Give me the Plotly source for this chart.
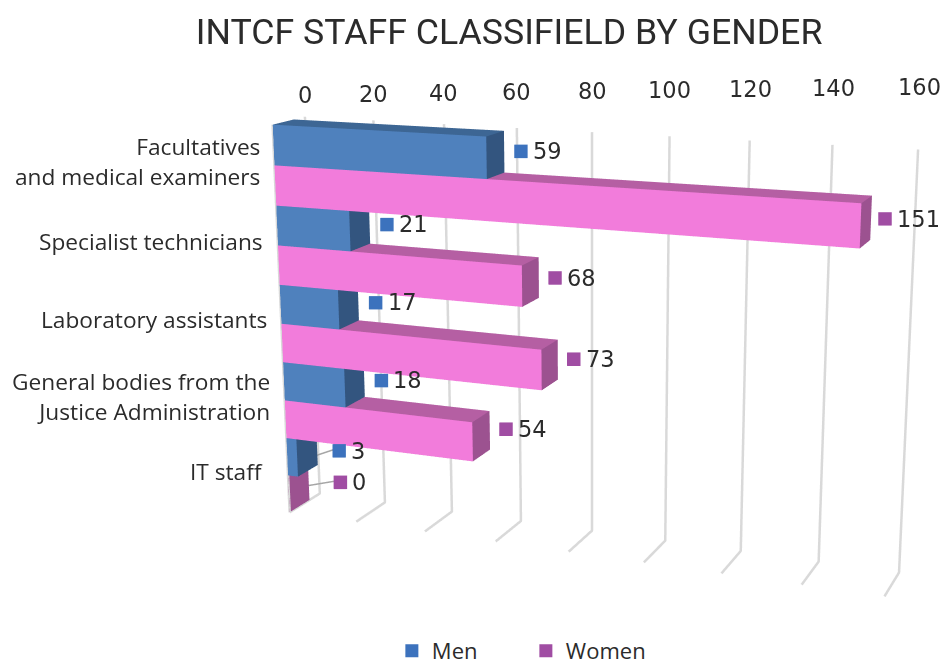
import plotly.graph_objects as go

categories = ["Facultatives<br>and medical examiners", "Specialist technicians", "Laboratory assistants",
              "General bodies from the<br>Justice Administration", "IT staff\u00a0\u00a0"]
men = [59, 21, 17, 18, 3]
women = [151, 68, 73, 54, 0]
ticks = [0, 20, 40, 60, 80, 100, 120, 140, 160]

MEN_C = dict(front="#4F81BD", top="#3D6694", side="#33557F", key="#3C72BD")
WOM_C = dict(front="#F27CDB", top="#B55FA3", side="#9C5290", key="#A04DA3")
TXT = "#2B2B2B"
GRID = "#D9D9D9"
FONT = "Open Sans"
NUM = "DejaVu Sans"
N = 10.0          # stacked bar slots
Y0, Y1 = 0.0, 0.65
LX, LY, LZ = 2.256, 0.114, 1.5
A, B, C = 0.60, 0.395, 0.076   # oblique skew of depth and value axes
D = 3.0
LIFT = 0.0113
EYE = (D*0.173, -D*0.979, D*0.113)


def P(x, u, z):
    """Chart coordinates (value, depth 0=front..1=back, level) to scene coordinates with the oblique skew."""
    return (x + A*LY*(u-1)*160/LX, u, z - C*(x-80)/160*LX*N/LZ + B*LY*(u-1)*N/LZ)


def toward_eye(p, t=0.06):
    """Slide a scene point along the line of sight so it stays on top without moving on screen."""
    sx, sy, sz = LX/160, LY, LZ/N
    b = ((p[0]-80)*sx, (p[1]-1)*sy, (p[2]-5)*sz)
    eye = (EYE[0], EYE[1], EYE[2]-LIFT)
    b = [v + t*(e-v) for v, e in zip(b, eye)]
    return (b[0]/sx+80, b[1]/sy+1, b[2]/sz+5)


fig = go.Figure()


def line(pts, color=GRID, width=5):
    q = [P(*p) for p in pts]
    fig.add_trace(go.Scatter3d(x=[a[0] for a in q], y=[a[1] for a in q], z=[a[2] for a in q], mode="lines",
                               line=dict(color=color, width=width), hoverinfo="skip", showlegend=False))


def box(x1, z0, z1, c):
    pts = [(0, Y0, z0), (x1, Y0, z0), (x1, Y1, z0), (0, Y1, z0), (0, Y0, z1), (x1, Y0, z1), (x1, Y1, z1), (0, Y1, z1)]
    q = [P(*p) for p in pts]
    i = [0, 0, 4, 4, 1, 1, 3, 3, 0, 0]
    j = [1, 2, 5, 6, 2, 6, 2, 6, 1, 5]
    k = [2, 3, 6, 7, 6, 5, 6, 7, 5, 4]
    fc = [c["side"]]*2 + [c["top"]]*2 + [c["side"]]*2 + [c["side"]]*2 + [c["front"]]*2
    fig.add_trace(go.Mesh3d(x=[a[0] for a in q], y=[a[1] for a in q], z=[a[2] for a in q], i=i, j=j, k=k,
                            facecolor=fc, flatshading=True,
                            lighting=dict(ambient=1, diffuse=0, specular=0, fresnel=0, roughness=1),
                            hoverinfo="skip", showscale=False))


for t in ticks:
    line([(t, 1, N), (t, 1, 0), (t, 0, 0)])
line([(0, 0, N), (0, 0, 0)])

ann = []
for idx, cat in enumerate(categories):
    zt = N - 2*idx
    box(max(men[idx], 0.01), zt-1, zt, MEN_C)
    box(max(women[idx], 0.01), zt-2, zt-1, WOM_C)
    px, py, pz = P(0, 0, zt-1)
    ann.append(dict(x=px, y=py, z=pz, text=cat, showarrow=False, xanchor="right", align="right", xshift=-13, yshift=4,
                    font=dict(size=22.7, color=TXT, family=FONT)))

for name, vals, c, off, drift in (("Men", men, MEN_C, 0.55, 0.045), ("Women", women, WOM_C, 1.6, 0.0)):
    pts = []
    for i, v in enumerate(vals):
        z = N - 2*i - off - drift*i
        kx = max(v, 4.5) + 2.0
        pts.append(P(kx, 1, z))
        if v < 5:
            line([(v, Y1, z), (kx-1.8, 1, z)], color="#A6A6A6", width=3)
        ann.append(dict(x=pts[-1][0], y=pts[-1][1], z=pts[-1][2], text=str(v), showarrow=False, xanchor="left",
                        xshift=10, font=dict(size=22.5, color=TXT, family=NUM)))
    front = [toward_eye(p) for p in pts]
    fig.add_trace(go.Scatter3d(x=[p[0] for p in front], y=[p[1] for p in front], z=[p[2] for p in front],
                               mode="markers", showlegend=False,
                               marker=dict(symbol="square", size=7, color=c["key"]), hoverinfo="skip"))
    fig.add_trace(go.Scatter3d(x=[None], y=[None], z=[None], mode="markers", name=name,
                               marker=dict(symbol="square", size=13, color=c["key"]), hoverinfo="skip"))

for t in ticks:
    p = P(t, 1, N)
    ann.append(dict(x=p[0], y=p[1], z=p[2] + 0.9*t/160, text=str(t), showarrow=False, yshift=22,
                    font=dict(size=22.5, color=TXT, family=NUM)))

hidden = dict(visible=False, showgrid=False, zeroline=False, showspikes=False)
fig.update_layout(
    width=949, height=664, margin=dict(l=0, r=0, t=0, b=0), paper_bgcolor="white",
    title=dict(text="INTCF STAFF CLASSIFIELD BY GENDER", x=0.528, y=0.965, xanchor="center", yanchor="middle",
               font=dict(size=35.7, color=TXT, family="Roboto")),
    showlegend=True,
    legend=dict(orientation="h", x=0.4045, y=0.0, xanchor="left", yanchor="bottom",
                entrywidth=89, entrywidthmode="pixels",
                font=dict(size=22, color=TXT, family=FONT), itemwidth=30),
    scene=dict(
        domain=dict(x=[0.231, 1], y=[0, 1]),
        xaxis=dict(range=[-80, 240], **hidden),
        yaxis=dict(range=[-5, 7], **hidden),
        zaxis=dict(range=[-10, 20], **hidden),
        aspectmode="manual", aspectratio=dict(x=2*LX, y=12*LY, z=3*LZ),
        camera=dict(eye=dict(x=EYE[0], y=EYE[1], z=EYE[2]-LIFT), center=dict(x=0, y=0, z=-LIFT),
                    up=dict(x=0, y=0, z=1), projection=dict(type="perspective")),
        annotations=ann,
    ),
)
fig.write_html("out.html")
